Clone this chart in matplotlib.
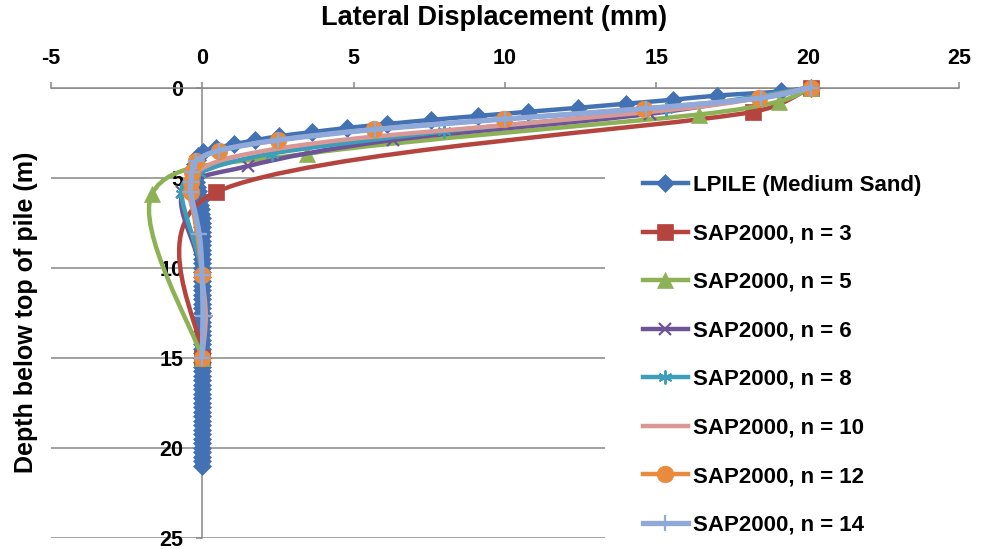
import numpy as np
import matplotlib
matplotlib.use('Agg')
import matplotlib.pyplot as plt
from matplotlib.path import Path
from matplotlib.patches import PathPatch
from matplotlib.lines import Line2D

plt.rcParams['font.family'] = ['Liberation Sans', 'DejaVu Sans']
plt.rcParams['font.weight'] = 'bold'
plt.rcParams['axes.unicode_minus'] = False

# LPILE (Medium Sand) - depth (m) and lateral displacement (mm)
lpile_depth = [0.0, 0.22, 0.45, 0.68, 0.9, 1.13, 1.35, 1.58, 1.8, 2.03, 2.25, 2.48,
               2.7, 2.93, 3.15, 3.38, 3.6, 3.8,
               4.0, 4.25, 4.5, 4.75, 5.0, 5.25, 5.5, 5.75, 6.0, 6.25, 6.5, 6.75,
               7.0, 7.25, 7.5, 7.75, 8.0, 8.25, 8.5, 8.75, 9.0, 9.25, 9.5, 9.75,
               10.0, 10.25, 10.5, 10.75, 11.0, 11.25, 11.5, 11.75, 12.0, 12.25, 12.5, 12.75,
               13.0, 13.25, 13.5, 13.75, 14.0, 14.25, 14.5, 14.75, 15.0, 15.25, 15.5, 15.75,
               16.0, 16.25, 16.5, 16.75, 17.0, 17.25, 17.5, 17.75, 18.0, 18.25, 18.5, 18.75,
               19.0, 19.25, 19.5, 19.75, 20.0, 20.25, 20.5, 20.75, 21.0]
lpile_disp = [20.1, 19.1, 17.0, 15.55, 14.0, 12.4, 10.75, 9.1, 7.55, 6.1, 4.78, 3.62,
              2.55, 1.76, 1.05, 0.45, 0.02, -0.12,
              -0.18, -0.22, -0.24, -0.24, -0.22, -0.19, -0.16, -0.13, -0.1, -0.08, -0.06, -0.04,
              -0.03, -0.02, -0.01, -0.01, 0.0, 0.01, 0.01, 0.01, 0.01, 0.01, 0.01, 0.01,
              0.01, 0.01, 0.01, 0.01, 0.01, 0.01, 0.01, 0.01, 0.01, 0.01, 0.01, 0.01,
              0.01, 0.01, 0.01, 0.01, 0.01, 0.0, 0.0, 0.0, 0.0, 0.0, 0.0, 0.0,
              0.0, 0.0, 0.0, 0.0, 0.0, 0.0, 0.0, 0.0, 0.0, 0.0, 0.0, 0.0,
              0.0, 0.0, 0.0, 0.0, 0.0, 0.0, 0.0, 0.0, 0.0]

# SAP2000 results
n3_depth = [0.0, 1.35, 5.8, 15.0]
n3_disp = [20.1, 18.2, 0.47, 0.0]
n5_depth = [0.0, 0.78, 1.5, 3.68, 5.9, 15.0]
n5_disp = [20.1, 19.04, 16.4, 3.45, -1.65, 0.0]
n6_depth = [0.0, 1.46, 2.92, 4.37, 5.83, 10.42, 15.0]
n6_disp = [20.1, 14.8, 6.3, 1.5, -0.65, 0.0, 0.0]
n8_depth = [0.0, 1.22, 2.44, 3.67, 4.75, 5.9, 10.42, 15.0]
n8_disp = [20.1, 15.3, 8.0, 2.3, -0.1, -0.68, 0.0, 0.0]
n10_depth = [0.0, 0.97, 1.94, 2.92, 3.89, 4.86, 5.83, 8.12, 10.42, 12.71, 15.0]
n10_disp = [20.1, 16.9, 11.0, 4.6, 0.95, -0.3, -0.45, -0.1, 0.0, 0.12, 0.0]
n12_depth = [0.0, 0.58, 1.17, 1.75, 2.33, 2.92, 3.5, 4.08, 4.67, 5.25, 5.83, 10.42, 15.0]
n12_disp = [20.1, 18.4, 14.6, 9.96, 5.67, 2.5, 0.55, -0.2, -0.33, -0.37, -0.38, 0.0, 0.0]
n14_depth = [0.0, 0.58, 1.17, 1.75, 2.33, 2.92, 3.5, 4.08, 4.67, 5.25, 5.83, 8.12, 10.42, 12.71, 15.0]
n14_disp = [20.1, 18.45, 14.65, 10.0, 5.7, 2.52, 0.56, -0.2, -0.33, -0.37, -0.38, -0.1, 0.0, 0.03, 0.0]

labels = ['LPILE (Medium Sand)', 'SAP2000, n = 3', 'SAP2000, n = 5', 'SAP2000, n = 6',
          'SAP2000, n = 8', 'SAP2000, n = 10', 'SAP2000, n = 12', 'SAP2000, n = 14']
xs = [lpile_disp, n3_disp, n5_disp, n6_disp, n8_disp, n10_disp, n12_disp, n14_disp]
ys = [lpile_depth, n3_depth, n5_depth, n6_depth, n8_depth, n10_depth, n12_depth, n14_depth]

colors = ['#4372B4', '#B5443F', '#8DB255', '#6E5497', '#3C9EB8', '#D99795', '#E98A3C', '#8FAADA']
markers = ['D', 's', '^', 'x', (6, 2, 0), '_', 'o', '+']
msizes = [9, 12, 12, 9, 10, 10, 12, 11]
mews = [0.5, 0.5, 0.5, 1.6, 1.4, 1.6, 0.5, 1.6]
lws = [3.2, 3.2, 3.2, 3.2, 3.2, 3.2, 3.2, 3.8]

gray = '#888888'


def smooth_path(ax, x, y):
    # smoothed scatter line: Bezier handles of 1/6 of the neighbour chord,
    # capped at half the segment length (worked out in screen space)
    to_px = ax.transData
    p = to_px.transform(np.column_stack([x, y]).astype(float))
    n = len(p)
    verts = [p[0]]
    for i in range(n - 1):
        p0 = p[i - 1] if i > 0 else p[i]
        p1 = p[i]
        p2 = p[i + 1]
        p3 = p[i + 2] if i + 2 < n else p[i + 1]
        d12 = np.hypot(*(p2 - p1))
        d02 = np.hypot(*(p2 - p0))
        d13 = np.hypot(*(p3 - p1))
        f0 = 1 / 6 if d02 / 6 < d12 / 2 else d12 / (2 * d02)
        f1 = 1 / 6 if d13 / 6 < d12 / 2 else d12 / (2 * d13)
        verts += [p1 + (p2 - p0) * f0, p2 - (p3 - p1) * f1, p2]
    verts = to_px.inverted().transform(np.array(verts))
    codes = [Path.MOVETO] + [Path.CURVE4] * (len(verts) - 1)
    return Path(verts, codes)


fig = plt.figure(figsize=(9.87, 5.49), dpi=100)
ax = fig.add_axes([50.7 / 987, 1 - 537.5 / 549, (959.3 - 50.7) / 987, (537.5 - 87.5) / 549])
ax.set_xlim(-5, 25)
ax.set_ylim(25, 0)

for k in range(len(xs)):
    patch = PathPatch(smooth_path(ax, xs[k], ys[k]), facecolor='none', edgecolor=colors[k],
                      lw=lws[k], joinstyle='round', capstyle='round', zorder=3 + 2 * k,
                      clip_on=False)
    ax.add_patch(patch)
    ax.plot(xs[k], ys[k], linestyle='none', marker=markers[k], ms=msizes[k],
            color=colors[k], mec=colors[k], mew=mews[k], zorder=4 + 2 * k, clip_on=False)

ax.set_xlim(-5, 25)
ax.set_ylim(25, 0)
ax.set_xticks(range(-5, 26, 5))
ax.set_yticks(range(0, 26, 5))
ax.xaxis.tick_top()

ax.spines['left'].set_position(('data', 0))
ax.spines['right'].set_visible(False)
ax.spines['bottom'].set_visible(False)
for s in ['left', 'top']:
    ax.spines[s].set_color(gray)
    ax.spines[s].set_linewidth(1.1)

ax.tick_params(axis='x', direction='out', length=4, width=1.1, color=gray, pad=9, labelsize=15.5)
ax.tick_params(axis='y', direction='out', length=4, width=1.1, color=gray, pad=9.5, labelsize=15.5)
ax.yaxis.grid(True, color=gray, lw=1.1)
ax.set_axisbelow(True)

fig.text(494 / 987, 1 - 18 / 549, 'Lateral Displacement (mm)', ha='center', va='center',
         fontsize=19.5, fontweight='bold')
fig.text(26 / 987, 1 - 312 / 549, 'Depth below top of pile (m)', ha='center', va='center',
         rotation=90, fontsize=18, fontweight='bold')

handles = [Line2D([], [], color=colors[k], lw=lws[k], marker=markers[k], ms=msizes[k],
                  mec=colors[k], mew=mews[k]) for k in range(len(xs))]
leg = fig.legend(handles, labels, loc='upper left', bbox_to_anchor=(605 / 987, 1 - 137 / 549),
                 frameon=True, fancybox=False, facecolor='white', edgecolor='none',
                 framealpha=1, fontsize=16, handlelength=2.03, handletextpad=0.22,
                 labelspacing=1.24, borderpad=1.7, borderaxespad=0, numpoints=1)

fig.savefig('out.png', dpi=100)
